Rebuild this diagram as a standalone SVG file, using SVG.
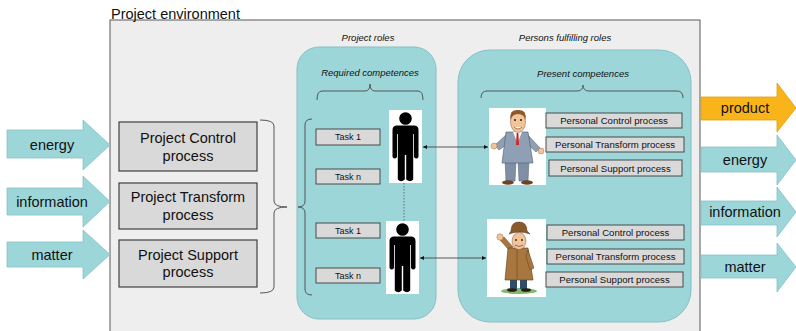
<svg xmlns="http://www.w3.org/2000/svg" width="796" height="331" viewBox="0 0 796 331">
  <defs>
    <style>
      text { font-family: "Liberation Sans", Arial, sans-serif; fill: #111; }
      .flow { fill: #9dd6d9; stroke: #86c2c6; stroke-width: 0.8; }
      .prod { fill: #f8b419; stroke: #e0a010; stroke-width: 0.8; }
      .flowtxt { font-size: 14.5px; text-anchor: middle; }
      .proc { fill: #d9d9d9; stroke: #404040; stroke-width: 1.2; }
      .proctxt { font-size: 14.5px; text-anchor: middle; }
      .panel { fill: #9dd6d9; stroke: #84c0c4; stroke-width: 1; }
      .cap { font-size: 9.5px; font-style: italic; text-anchor: middle; }
      .task { fill: #d9d9d9; stroke: #4a4a4a; stroke-width: 1; }
      .tasktxt { font-size: 9px; text-anchor: middle; }
      .pers { fill: #d9d9d9; stroke: #4a4a4a; stroke-width: 1; }
      .perstxt { font-size: 9.6px; text-anchor: middle; }
      .brace { fill: none; stroke: #555; stroke-width: 1; }
      .link { fill: none; stroke: #333; stroke-width: 0.8; }
      .photo { fill: #ffffff; }
    </style>
    <marker id="tip" viewBox="0 0 6 6" refX="6" refY="3" markerWidth="5" markerHeight="5" orient="auto-start-reverse">
      <path d="M0,0 L6,3 L0,6 Z" fill="#111"/>
    </marker>
    <!-- pictogram of a role holder, drawn in a 33x73 frame -->
    <g id="roleFigure">
      <rect class="photo" x="0" y="0" width="33" height="73"/>
      <circle cx="16.5" cy="8.5" r="6.3" fill="#000"/>
      <path fill="#000" d="M3.5,20 Q3.5,15.5 8,15.5 H25 Q29.5,15.5 29.5,20 V47 Q27.25,50 25,47 V24 H24.2 V69.5 Q21.2,73 17.2,69.5 V45 H15.8 V69.5 Q12,73 8.8,69.5 V24 H8 V47 Q5.75,50 3.5,47 Z"/>
    </g>
  </defs>

  <!-- environment frame -->
  <g id="environment">
    <rect x="110" y="20" width="590" height="320" fill="#eeeeee" stroke="#595959" stroke-width="1"/>
    <text x="111" y="19" font-size="14.5px">Project environment</text>
  </g>

  <!-- incoming flows -->
  <g id="in-energy">
    <path class="flow" d="M7,130 H83 V120 L110,145 L83,170 V158 H7 Z"/>
    <text class="flowtxt" x="52" y="150">energy</text>
  </g>
  <g id="in-information">
    <path class="flow" d="M7,188 H83 V176 L110,201.5 L83,227 V215 H7 Z"/>
    <text class="flowtxt" x="52" y="206.5">information</text>
  </g>
  <g id="in-matter">
    <path class="flow" d="M7,242 H83 V230 L110,254.5 L83,279 V267 H7 Z"/>
    <text class="flowtxt" x="52" y="259.5">matter</text>
  </g>

  <!-- project processes -->
  <g id="proc-control">
    <rect class="proc" x="119" y="122" width="138" height="49"/>
    <text class="proctxt" x="188" y="142.5">Project Control</text>
    <text class="proctxt" x="188" y="160.5">process</text>
  </g>
  <g id="proc-transform">
    <rect class="proc" x="119" y="183" width="138" height="46"/>
    <text class="proctxt" x="188" y="202">Project Transform</text>
    <text class="proctxt" x="188" y="219.5">process</text>
  </g>
  <g id="proc-support">
    <rect class="proc" x="119" y="240" width="138" height="47"/>
    <text class="proctxt" x="188" y="259.5">Project Support</text>
    <text class="proctxt" x="188" y="276.5">process</text>
  </g>

  <!-- project roles -->
  <g id="project-roles">
    <text class="cap" x="368" y="40.5">Project roles</text>
    <rect class="panel" x="297" y="47" width="139" height="272" rx="22"/>
    <text class="cap" x="370" y="76">Required competences</text>
  </g>
  <g id="role-1">
    <rect class="task" x="316" y="129" width="64" height="16"/>
    <text class="tasktxt" x="348" y="140.3">Task 1</text>
    <rect class="task" x="316" y="169" width="64" height="15"/>
    <text class="tasktxt" x="348" y="179.8">Task n</text>
    <use href="#roleFigure" x="389" y="110"/>
  </g>
  <g id="role-2">
    <rect class="task" x="316" y="223" width="64" height="15"/>
    <text class="tasktxt" x="348" y="233.8">Task 1</text>
    <rect class="task" x="316" y="268" width="64" height="15"/>
    <text class="tasktxt" x="348" y="278.8">Task n</text>
    <use href="#roleFigure" x="386" y="221"/>
  </g>

  <!-- persons fulfilling roles -->
  <g id="persons">
    <text class="cap" x="565" y="40.5">Persons fulfilling roles</text>
    <rect class="panel" x="458" y="50" width="233" height="272" rx="32"/>
    <text class="cap" x="583" y="77">Present competences</text>
  </g>
  <g id="person-1">
    <rect class="photo" x="489" y="108" width="57" height="77"/>
    <!-- trousers and shoes -->
    <path d="M505,160 H516 L515,181 H506 Z" fill="#7f90a6" stroke="#4d5a6b" stroke-width="0.5"/>
    <path d="M518,160 H529 L528,181 H519 Z" fill="#7f90a6" stroke="#4d5a6b" stroke-width="0.5"/>
    <ellipse cx="508" cy="182.5" rx="6" ry="2.2" fill="#6a4426"/>
    <ellipse cx="527" cy="182.5" rx="6" ry="2.2" fill="#6a4426"/>
    <!-- arms -->
    <path d="M507,134 L495,145 L499,150 L510,142 Z" fill="#8fa0b5" stroke="#4d5a6b" stroke-width="0.5"/>
    <path d="M527,134 L540,148 L536,152 L525,142 Z" fill="#8fa0b5" stroke="#4d5a6b" stroke-width="0.5"/>
    <circle cx="494" cy="146" r="3" fill="#f2c49a" stroke="#8a5a35" stroke-width="0.4"/>
    <circle cx="541" cy="151" r="3" fill="#f2c49a" stroke="#8a5a35" stroke-width="0.4"/>
    <!-- jacket, shirt, tie -->
    <path d="M506,132 H528 L533,163 H502 Z" fill="#8fa0b5" stroke="#4d5a6b" stroke-width="0.6"/>
    <path d="M513,132 H522 L517.5,143 Z" fill="#ffffff"/>
    <path d="M516.6,133 H518.4 L519,145 H516 Z" fill="#c8262b"/>
    <!-- head -->
    <ellipse cx="518" cy="122" rx="7.5" ry="10.5" fill="#f2c49a" stroke="#8a5a35" stroke-width="0.5"/>
    <path d="M510.5,120 Q509,109 518,110 Q527,109 525.5,120 Q524,114 518,114 Q512,114 510.5,120 Z" fill="#8a5a2b"/>
    <circle cx="515" cy="120" r="1" fill="#222"/>
    <circle cx="521" cy="120" r="1" fill="#222"/>
    <path d="M514,127 Q518,131 522,127" fill="#fff" stroke="#5a2a1a" stroke-width="0.6"/>
  </g>
  <g id="person-1-competences">
    <rect class="pers" x="546" y="113" width="136" height="15"/>
    <text class="perstxt" x="614" y="124">Personal Control process</text>
    <rect class="pers" x="546" y="137" width="138" height="15"/>
    <text class="perstxt" x="615" y="148">Personal Transform process</text>
    <rect class="pers" x="549" y="160" width="133" height="16"/>
    <text class="perstxt" x="615.5" y="171.5">Personal Support process</text>
  </g>
  <g id="person-2">
    <rect class="photo" x="487" y="219" width="59" height="78"/>
    <!-- grass -->
    <ellipse cx="519" cy="291" rx="18" ry="3" fill="#7dbb6a"/>
    <!-- legs and shoes -->
    <path d="M510,276 H517 V289 H510 Z" fill="#2e4d6e"/>
    <path d="M520,276 H527 V289 H520 Z" fill="#2e4d6e"/>
    <ellipse cx="512" cy="290" rx="5" ry="1.8" fill="#2a1a10"/>
    <ellipse cx="526" cy="290" rx="5" ry="1.8" fill="#2a1a10"/>
    <!-- raised arm -->
    <path d="M509,250 L500,240 L504,237 L513,247 Z" fill="#a8773f" stroke="#5c3a18" stroke-width="0.5"/>
    <circle cx="500" cy="237" r="3.2" fill="#f2c49a" stroke="#8a5a35" stroke-width="0.4"/>
    <!-- coat -->
    <path d="M508,248 H528 L533,280 H505 Z" fill="#a8773f" stroke="#5c3a18" stroke-width="0.6"/>
    <path d="M528,250 L534,268 L530,270 L526,256 Z" fill="#a8773f" stroke="#5c3a18" stroke-width="0.5"/>
    <path d="M517,249 V279" stroke="#5c3a18" stroke-width="0.5"/>
    <!-- head and hat -->
    <ellipse cx="519" cy="241" rx="7" ry="8.5" fill="#f2c49a" stroke="#8a5a35" stroke-width="0.5"/>
    <path d="M509,234 Q519,230 530,234 L527,231 Q527,222 519,222 Q511,222 511,231 Z" fill="#8a5a2b" stroke="#4a2e14" stroke-width="0.5"/>
    <circle cx="516" cy="240" r="0.9" fill="#222"/>
    <circle cx="522" cy="240" r="0.9" fill="#222"/>
    <path d="M515,245 Q519,248 523,245" fill="none" stroke="#5a2a1a" stroke-width="0.6"/>
  </g>
  <g id="person-2-competences">
    <rect class="pers" x="547" y="225" width="137" height="15"/>
    <text class="perstxt" x="615.5" y="236">Personal Control process</text>
    <rect class="pers" x="547" y="249" width="137" height="15"/>
    <text class="perstxt" x="615.5" y="260">Personal Transform process</text>
    <rect class="pers" x="546" y="272" width="137" height="15"/>
    <text class="perstxt" x="614.5" y="283">Personal Support process</text>
  </g>

  <!-- outgoing flows -->
  <g id="out-product">
    <path class="prod" d="M701,97 H777 V83 L796,108 L777,132 V120 H701 Z"/>
    <text class="flowtxt" x="745" y="113">product</text>
  </g>
  <g id="out-energy">
    <path class="flow" d="M701,147 H777 V135 L796,160 L777,185 V172 H701 Z"/>
    <text class="flowtxt" x="745" y="165">energy</text>
  </g>
  <g id="out-information">
    <path class="flow" d="M701,201 H777 V187 L796,212 L777,237 V225 H701 Z"/>
    <text class="flowtxt" x="745" y="217">information</text>
  </g>
  <g id="out-matter">
    <path class="flow" d="M701,255 H777 V243 L796,267 L777,292 V278 H701 Z"/>
    <text class="flowtxt" x="745" y="272">matter</text>
  </g>

  <!-- connectors: braces, role links -->
  <g id="connectors">
    <path class="brace" d="M260,120 Q274,120 274,126 V201 Q274,207 287,207 Q274,207 274,213 V287 Q274,293 260,293"/>
    <path class="brace" d="M312,119 Q305,119 305,125 V201 Q305,207 298,207 Q305,207 305,213 V289 Q305,295 312,295"/>
    <path class="brace" d="M317,100 Q317,91 322,91 H365 Q370,91 370,84 Q370,91 375,91 H418 Q423,91 423,100"/>
    <path class="brace" d="M481,98 Q481,91 487,91 H577 Q583,91 583,85 Q583,91 589,91 H677 Q683,91 683,98"/>
    <line x1="404" y1="183" x2="404" y2="221" stroke="#555" stroke-width="0.8" stroke-dasharray="1.5,1.5"/>
    <line class="link" x1="423" y1="147" x2="488" y2="147" marker-start="url(#tip)" marker-end="url(#tip)"/>
    <line class="link" x1="420" y1="258" x2="486" y2="258" marker-start="url(#tip)" marker-end="url(#tip)"/>
  </g>
</svg>
